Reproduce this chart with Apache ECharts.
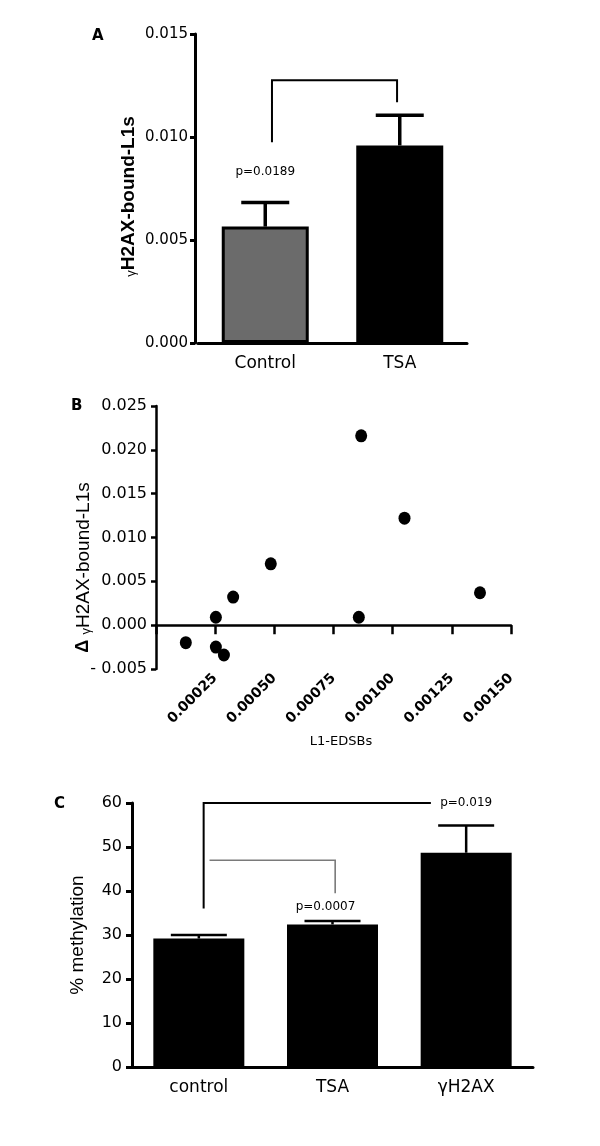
<!DOCTYPE html>
<html><head><meta charset="utf-8">
<script src="https://cdn.jsdelivr.net/npm/echarts@6/dist/echarts.min.js"></script>
<style>html,body{margin:0;padding:0;background:#fff}#c{width:600px;height:1146px}</style>
</head><body><div id="c"></div>
<script>
// ---------- Panel A data ----------
const catsA = ['Control', 'TSA'];
const meanA = [0.00565, 0.00959];
const semA = [0.00117, 0.00146];
const bracketA = [0, 1, 0.01276, 0.00974, 0.01169]; // from, to, top, left end, right end
const pPosA = [[0, 0.00833]];
const pLabelsA = ['p=0.0189'];

// ---------- Panel B data ----------
const xB = [0.000126, 0.000253, 0.000253, 0.000287, 0.000326, 0.000485, 0.000867, 0.000857, 0.00105, 0.001369];
const yB = [-0.0020, 0.0009, -0.0025, -0.0034, 0.0032, 0.0070, 0.0216, 0.0009, 0.0122, 0.0037];

// ---------- Panel C data ----------
const catsC = ['control', 'TSA', 'γH2AX'];
const meanC = [29.2, 32.4, 48.7];
const semC = [0.8, 0.8, 6.2];
const bracketC1 = [0, 2, 60, 36];   // from, to, top, left end
const bracketC2 = [0, 1, 47, 39.5]; // from, to, top, right end
const pPosC = [[1, 36.4], [2, 60]];
const pLabelsC = ['p=0.0007', 'p=0.019'];

// ---------- styles ----------
const F = 'DejaVu Sans';
const FR = 'Liberation Sans';
const fillA = ['#6b6b6b', '#000000'];
const pOffC = [-7, 0];

function errRender(capHalf, lw) {
  return function (params, api) {
    const i = api.value(0);
    const p0 = api.coord([i, api.value(1)]);
    const p1 = api.coord([i, api.value(2)]);
    return { type: 'group', children: [
      { type: 'line', shape: { x1: p0[0], y1: p0[1], x2: p1[0], y2: p1[1] }, style: { stroke: '#000', lineWidth: lw } },
      { type: 'line', shape: { x1: p1[0] - capHalf, y1: p1[1], x2: p1[0] + capHalf, y2: p1[1] }, style: { stroke: '#000', lineWidth: lw } }
    ] };
  };
}
function textRender(labels, offs, size) {
  return function (params, api) {
    const p = api.coord([api.value(0), api.value(1)]);
    return { type: 'text', x: p[0] + (offs ? offs[params.dataIndex] : 0), y: p[1],
      style: { text: labels[params.dataIndex], fill: '#000', font: size + 'px "' + F + '"', textAlign: 'center', textVerticalAlign: 'middle' } };
  };
}

const chart = echarts.init(document.getElementById('c'), null, { renderer: 'canvas' });
const axisLbl = (fs, margin, extra) => Object.assign({ color: '#000', fontFamily: F, fontSize: fs, margin: margin }, extra || {});

chart.setOption({
  animation: false,
  backgroundColor: '#fff',
  grid: [
    { left: 198, top: 34, width: 269, height: 309, outerBoundsMode: 'none' },
    { left: 156, top: 406, width: 355, height: 263, outerBoundsMode: 'none' },
    { left: 132, top: 803, width: 401, height: 264, outerBoundsMode: 'none' }
  ],
  graphic: [
    { type: 'text', left: 92, top: 29, style: { text: 'A', font: 'bold 15px "' + F + '"', fill: '#000' } },
    { type: 'text', left: 71, top: 399, style: { text: 'B', font: 'bold 15px "' + F + '"', fill: '#000' } },
    { type: 'text', left: 54, top: 797, style: { text: 'C', font: 'bold 15px "' + F + '"', fill: '#000' } }
  ],
  xAxis: [
    { gridIndex: 0, type: 'category', data: catsA,
      axisLine: { lineStyle: { color: '#000', width: 3 } },
      axisTick: { alignWithLabel: true, length: 7, lineStyle: { color: '#000', width: 3 } },
      axisLabel: axisLbl(17, 12) },
    { gridIndex: 1, type: 'value', min: 0, max: 0.0015, interval: 0.00025,
      axisLine: { onZero: true, lineStyle: { color: '#000', width: 2.5 } },
      axisTick: { length: 9, lineStyle: { color: '#000', width: 2.5 } },
      splitLine: { show: false },
      axisLabel: axisLbl(14, 7, { rotate: 45, fontWeight: 'bold', formatter: v => v === 0 ? '' : v.toFixed(5) }),
      name: 'L1-EDSBs', nameLocation: 'middle', nameGap: 66, nameMoveOverlap: false,
      nameTextStyle: { color: '#000', fontFamily: F, fontSize: 13, padding: [0, 0, 0, 15] } },
    { gridIndex: 2, type: 'category', data: catsC,
      axisLine: { lineStyle: { color: '#000', width: 3 } },
      axisTick: { alignWithLabel: true, length: 7, lineStyle: { color: '#000', width: 3 } },
      axisLabel: axisLbl(17, 12) }
  ],
  yAxis: [
    { gridIndex: 0, type: 'value', min: 0, max: 0.015, interval: 0.005, offset: 3,
      axisLine: { show: true, lineStyle: { color: '#000', width: 3 } },
      axisTick: { show: true, length: 5, lineStyle: { color: '#000', width: 3 } },
      splitLine: { show: false },
      axisLabel: axisLbl(15, 7, { formatter: v => v.toFixed(3) }),
      name: '{g|γ}H2AX-bound-L1s', nameLocation: 'middle', nameRotate: 90, nameGap: 57, nameMoveOverlap: false,
      nameTextStyle: { color: '#000', fontFamily: FR, fontWeight: 'bold', fontSize: 19, padding: [0, 16, 0, 0],
        rich: { g: { fontFamily: FR, fontSize: 13, fontWeight: 'normal', color: '#000', verticalAlign: 'bottom' } } } },
    { gridIndex: 1, type: 'value', min: -0.005, max: 0.025, interval: 0.005,
      axisLine: { show: true, lineStyle: { color: '#000', width: 2.5 } },
      axisTick: { show: true, length: 5, lineStyle: { color: '#000', width: 2.5 } },
      splitLine: { show: false },
      axisLabel: axisLbl(16, 9, { formatter: v => (v < -1e-12 ? '- ' : '') + Math.abs(v).toFixed(3) }),
      name: '{d|Δ} {g|γ}H2AX-bound-L1s', nameLocation: 'middle', nameRotate: 90, nameGap: 63, nameMoveOverlap: false,
      nameTextStyle: { color: '#000', fontFamily: FR, fontSize: 19, padding: [0, 60, 0, 0],
        rich: { d: { fontFamily: FR, fontSize: 18, fontWeight: 'bold', color: '#000' },
                g: { fontFamily: FR, fontSize: 13, color: '#000', verticalAlign: 'bottom' } } } },
    { gridIndex: 2, type: 'value', min: 0, max: 60, interval: 10,
      axisLine: { show: true, lineStyle: { color: '#000', width: 3 } },
      axisTick: { show: true, length: 6, lineStyle: { color: '#000', width: 3 } },
      splitLine: { show: false },
      axisLabel: axisLbl(16, 10),
      name: '% methylation', nameLocation: 'middle', nameRotate: 90, nameGap: 45, nameMoveOverlap: false,
      nameTextStyle: { color: '#000', fontFamily: FR, fontSize: 19 } }
  ],
  series: [
    // Panel A
    { type: 'bar', xAxisIndex: 0, yAxisIndex: 0, barWidth: 87, z: 2,
      data: meanA.map((v, i) => ({ value: v, itemStyle: { color: fillA[i] } })),
      itemStyle: { borderColor: '#000', borderWidth: 3 } },
    { type: 'custom', xAxisIndex: 0, yAxisIndex: 0, z: 3, renderItem: errRender(24, 3.5),
      encode: { x: 0, y: [1, 2] }, data: meanA.map((m, i) => [i, m, m + semA[i]]) },
    { type: 'custom', xAxisIndex: 0, yAxisIndex: 0, z: 3, encode: { x: [0, 1], y: [2, 3, 4] }, data: [bracketA],
      renderItem: function (params, api) {
        const band = api.size([1, 0])[0];
        const cl = api.coord([api.value(0), api.value(2)]);
        const cr = api.coord([api.value(1), api.value(2)]);
        const yl = api.coord([api.value(0), api.value(3)])[1];
        const yr = api.coord([api.value(1), api.value(4)])[1];
        const xl = cl[0] + 0.05 * band, xr = cr[0] - 0.02 * band;
        return { type: 'polyline', shape: { points: [[xl, yl], [xl, cl[1]], [xr, cr[1]], [xr, yr]] },
          style: { stroke: '#000', lineWidth: 2, fill: null } };
      } },
    { type: 'custom', xAxisIndex: 0, yAxisIndex: 0, z: 3, encode: { x: 0, y: 1 }, data: pPosA,
      renderItem: textRender(pLabelsA, null, 12) },
    // Panel B
    { type: 'scatter', xAxisIndex: 1, yAxisIndex: 1, symbol: 'circle', symbolSize: [12, 13],
      itemStyle: { color: '#000', opacity: 1 }, data: xB.map((x, i) => [x, yB[i]]) },
    // Panel C
    { type: 'bar', xAxisIndex: 2, yAxisIndex: 2, barWidth: 91, z: 2, data: meanC,
      itemStyle: { color: '#000' } },
    { type: 'custom', xAxisIndex: 2, yAxisIndex: 2, z: 3, renderItem: errRender(28, 2.5),
      encode: { x: 0, y: [1, 2] }, data: meanC.map((m, i) => [i, m, m + semC[i]]) },
    { type: 'custom', xAxisIndex: 2, yAxisIndex: 2, z: 3, encode: { x: [0, 1], y: [2, 3] }, data: [bracketC1],
      renderItem: function (params, api) {
        const band = api.size([1, 0])[0];
        const cl = api.coord([api.value(0), api.value(2)]);
        const cr = api.coord([api.value(1), api.value(2)]);
        const yl = api.coord([api.value(0), api.value(3)])[1];
        const xl = cl[0] + 0.036 * band, xr = cr[0] - 0.264 * band;
        return { type: 'polyline', shape: { points: [[xl, yl], [xl, cl[1]], [xr, cr[1]]] },
          style: { stroke: '#000', lineWidth: 2, fill: null } };
      } },
    { type: 'custom', xAxisIndex: 2, yAxisIndex: 2, z: 3, encode: { x: [0, 1], y: [2, 3] }, data: [bracketC2],
      renderItem: function (params, api) {
        const band = api.size([1, 0])[0];
        const cl = api.coord([api.value(0), api.value(2)]);
        const cr = api.coord([api.value(1), api.value(2)]);
        const yr = api.coord([api.value(1), api.value(3)])[1];
        const xl = cl[0] + 0.08 * band, xr = cr[0] + 0.02 * band;
        return { type: 'polyline', shape: { points: [[xl, cl[1]], [xr, cr[1]], [xr, yr]] },
          style: { stroke: '#7a7a7a', lineWidth: 1.6, fill: null } };
      } },
    { type: 'custom', xAxisIndex: 2, yAxisIndex: 2, z: 3, encode: { x: 0, y: 1 }, data: pPosC,
      renderItem: textRender(pLabelsC, pOffC, 12) }
  ]
});
</script></body></html>
